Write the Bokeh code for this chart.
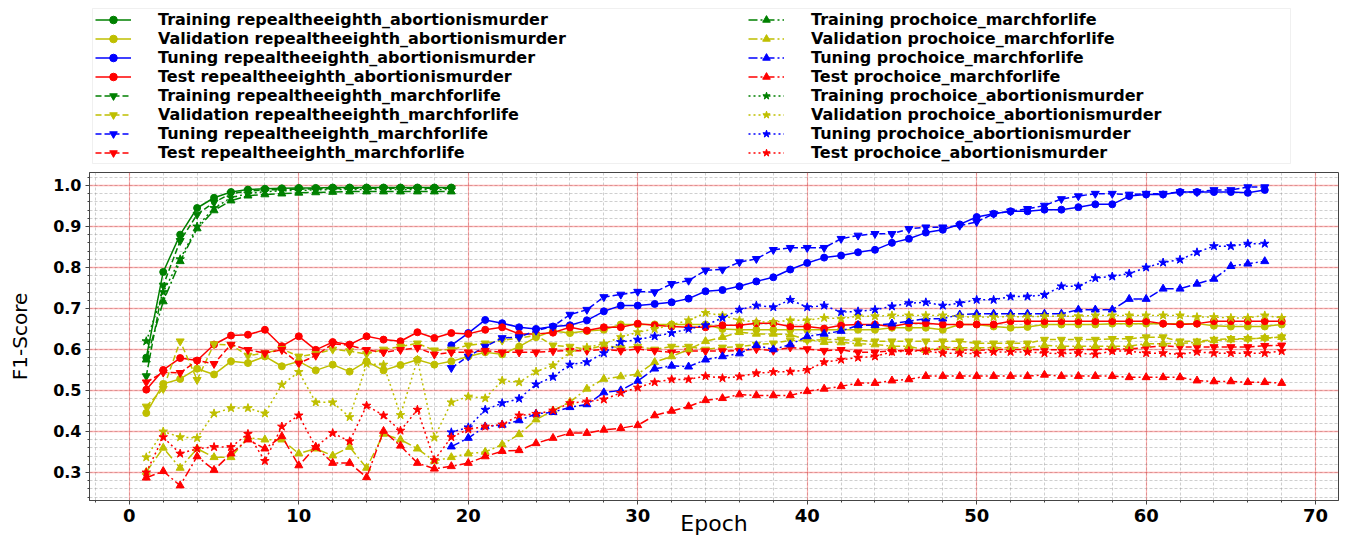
from bokeh.plotting import figure
from bokeh.layouts import column
from bokeh.models import (Legend, LegendItem, Range1d, SingleIntervalTicker,
                          PrintfTickFormatter, BoxAnnotation)
from bokeh.embed import file_html
from bokeh.resources import INLINE

# ---------------- data ----------------
epochs_train = list(range(1, 20))
epochs_all = list(range(1, 69))
epochs_tune = list(range(19, 68))

# Training (epochs 1-19)
train_rep_abort = [0.58, 0.789, 0.88, 0.945, 0.97, 0.984, 0.99, 0.992, 0.993, 0.994,
                   0.994, 0.995, 0.995, 0.995, 0.995, 0.995, 0.995, 0.995, 0.995]
train_rep_march = [0.535, 0.756, 0.865, 0.929, 0.959, 0.98, 0.986, 0.989, 0.99, 0.991,
                   0.992, 0.992, 0.993, 0.993, 0.993, 0.993, 0.993, 0.993, 0.993]
train_pro_march = [0.575, 0.717, 0.815, 0.895, 0.939, 0.963, 0.975, 0.978, 0.98, 0.982,
                   0.983, 0.984, 0.985, 0.985, 0.985, 0.985, 0.985, 0.985, 0.985]
train_pro_abort = [0.62, 0.74, 0.82, 0.9, 0.945, 0.97, 0.98, 0.985, 0.987, 0.988,
                   0.989, 0.99, 0.99, 0.99, 0.99, 0.99, 0.99, 0.99, 0.99]

# Validation (epochs 1-68)
val_rep_abort = [0.445, 0.516, 0.528, 0.553, 0.539, 0.571, 0.567, 0.583, 0.559, 0.571,
                 0.549, 0.563, 0.546, 0.571, 0.549, 0.562, 0.575, 0.563, 0.571, 0.583,
                 0.593, 0.588, 0.607, 0.63, 0.645, 0.64, 0.645, 0.648, 0.661, 0.661,
                 0.661, 0.661, 0.661, 0.661, 0.65, 0.648, 0.648, 0.648, 0.648, 0.648,
                 0.648, 0.648, 0.648, 0.648, 0.653, 0.653, 0.653, 0.648, 0.661, 0.661,
                 0.656, 0.653, 0.655, 0.661, 0.661, 0.661, 0.661, 0.663, 0.663, 0.663,
                 0.663, 0.663, 0.663, 0.658, 0.656, 0.656, 0.656, 0.661]
val_rep_march = [0.461, 0.504, 0.62, 0.526, 0.613, 0.611, 0.585, 0.591, 0.601, 0.583,
                 0.589, 0.6, 0.596, 0.589, 0.6, 0.607, 0.615, 0.598, 0.6, 0.61,
                 0.615, 0.622, 0.628, 0.634, 0.61, 0.607, 0.6, 0.61, 0.604, 0.607,
                 0.6, 0.607, 0.607, 0.6, 0.605, 0.607, 0.612, 0.615, 0.622, 0.622,
                 0.624, 0.624, 0.622, 0.62, 0.62, 0.62, 0.62, 0.62, 0.62, 0.615,
                 0.615, 0.615, 0.615, 0.624, 0.624, 0.624, 0.624, 0.626, 0.626, 0.63,
                 0.63, 0.62, 0.62, 0.624, 0.626, 0.626, 0.628, 0.63]
val_pro_march = [0.301, 0.36, 0.311, 0.358, 0.337, 0.337, 0.385, 0.38, 0.38, 0.346,
                 0.358, 0.341, 0.362, 0.311, 0.394, 0.38, 0.358, 0.328, 0.337, 0.346,
                 0.35, 0.368, 0.393, 0.429, 0.451, 0.472, 0.504, 0.528, 0.534, 0.54,
                 0.569, 0.583, 0.6, 0.62, 0.63, 0.642, 0.638, 0.638, 0.636, 0.624,
                 0.618, 0.617, 0.614, 0.612, 0.608, 0.608, 0.598, 0.605, 0.604, 0.604,
                 0.604, 0.604, 0.604, 0.61, 0.608, 0.608, 0.608, 0.608, 0.608, 0.614,
                 0.614, 0.615, 0.617, 0.622, 0.624, 0.626, 0.628, 0.63]
val_pro_abort = [0.337, 0.4, 0.386, 0.384, 0.444, 0.457, 0.457, 0.444, 0.514, 0.545,
                 0.471, 0.471, 0.435, 0.565, 0.563, 0.44, 0.575, 0.385, 0.471, 0.485,
                 0.481, 0.524, 0.52, 0.546, 0.561, 0.593, 0.605, 0.614, 0.63, 0.642,
                 0.65, 0.66, 0.671, 0.689, 0.683, 0.671, 0.667, 0.667, 0.671, 0.671,
                 0.677, 0.675, 0.681, 0.681, 0.683, 0.683, 0.683, 0.683, 0.68, 0.679,
                 0.679, 0.68, 0.68, 0.681, 0.681, 0.681, 0.683, 0.683, 0.683, 0.683,
                 0.683, 0.683, 0.679, 0.679, 0.677, 0.677, 0.683, 0.677]

# Tuning (epochs 19-67)
tune_rep_abort = [0.61, 0.64, 0.672, 0.664, 0.654, 0.65, 0.656, 0.659, 0.671, 0.693,
                  0.707, 0.707, 0.711, 0.715, 0.724, 0.742, 0.745, 0.754, 0.766, 0.776,
                  0.795, 0.811, 0.824, 0.829, 0.837, 0.843, 0.86, 0.87, 0.885, 0.892,
                  0.905, 0.923, 0.931, 0.937, 0.937, 0.941, 0.941, 0.947, 0.954, 0.954,
                  0.974, 0.978, 0.978, 0.984, 0.984, 0.984, 0.984, 0.982, 0.989]
tune_rep_march = [0.555, 0.583, 0.607, 0.628, 0.63, 0.646, 0.656, 0.685, 0.697, 0.728,
                  0.734, 0.741, 0.74, 0.76, 0.768, 0.793, 0.795, 0.813, 0.821, 0.843,
                  0.848, 0.848, 0.848, 0.87, 0.878, 0.882, 0.882, 0.894, 0.898, 0.898,
                  0.902, 0.911, 0.931, 0.937, 0.943, 0.951, 0.967, 0.974, 0.98, 0.98,
                  0.978, 0.98, 0.98, 0.984, 0.984, 0.989, 0.989, 0.996, 0.996]
tune_pro_march = [0.363, 0.384, 0.412, 0.416, 0.427, 0.443, 0.447, 0.459, 0.466, 0.495,
                  0.5, 0.523, 0.553, 0.56, 0.558, 0.575, 0.583, 0.59, 0.61, 0.6,
                  0.612, 0.632, 0.638, 0.645, 0.659, 0.659, 0.663, 0.669, 0.675, 0.675,
                  0.685, 0.687, 0.687, 0.687, 0.687, 0.687, 0.687, 0.697, 0.697, 0.697,
                  0.723, 0.723, 0.748, 0.748, 0.76, 0.772, 0.803, 0.809, 0.815]
tune_pro_abort = [0.398, 0.41, 0.453, 0.469, 0.48, 0.515, 0.533, 0.563, 0.569, 0.591,
                  0.618, 0.624, 0.632, 0.64, 0.65, 0.659, 0.677, 0.697, 0.707, 0.703,
                  0.721, 0.703, 0.707, 0.691, 0.693, 0.697, 0.705, 0.713, 0.715, 0.707,
                  0.713, 0.721, 0.721, 0.729, 0.729, 0.733, 0.754, 0.754, 0.774, 0.778,
                  0.785, 0.8, 0.812, 0.819, 0.837, 0.852, 0.852, 0.858, 0.858]

# Test (epochs 1-68)
test_rep_abort = [0.502, 0.55, 0.579, 0.573, 0.612, 0.634, 0.636, 0.648, 0.608, 0.632,
                  0.599, 0.618, 0.612, 0.632, 0.624, 0.62, 0.642, 0.628, 0.64, 0.638,
                  0.648, 0.654, 0.638, 0.638, 0.641, 0.654, 0.646, 0.654, 0.654, 0.663,
                  0.659, 0.656, 0.654, 0.654, 0.659, 0.659, 0.664, 0.664, 0.656, 0.656,
                  0.651, 0.659, 0.661, 0.661, 0.656, 0.664, 0.664, 0.661, 0.661, 0.661,
                  0.661, 0.669, 0.669, 0.669, 0.669, 0.669, 0.669, 0.669, 0.669, 0.669,
                  0.663, 0.661, 0.663, 0.669, 0.669, 0.669, 0.669, 0.669]
test_rep_march = [0.52, 0.544, 0.543, 0.573, 0.565, 0.612, 0.599, 0.591, 0.599, 0.566,
                  0.585, 0.614, 0.61, 0.599, 0.593, 0.599, 0.604, 0.588, 0.593, 0.593,
                  0.597, 0.593, 0.593, 0.593, 0.596, 0.597, 0.597, 0.6, 0.597, 0.601,
                  0.597, 0.593, 0.596, 0.596, 0.596, 0.597, 0.601, 0.597, 0.605, 0.601,
                  0.597, 0.599, 0.593, 0.593, 0.597, 0.597, 0.598, 0.601, 0.599, 0.598,
                  0.6, 0.6, 0.6, 0.599, 0.599, 0.6, 0.6, 0.601, 0.601, 0.605,
                  0.609, 0.606, 0.606, 0.606, 0.606, 0.606, 0.609, 0.61]
test_pro_march = [0.287, 0.303, 0.268, 0.339, 0.306, 0.346, 0.38, 0.358, 0.388, 0.317,
                  0.362, 0.323, 0.323, 0.288, 0.401, 0.365, 0.323, 0.309, 0.315, 0.323,
                  0.339, 0.352, 0.354, 0.371, 0.384, 0.396, 0.396, 0.404, 0.408, 0.415,
                  0.439, 0.45, 0.461, 0.476, 0.481, 0.49, 0.488, 0.488, 0.488, 0.498,
                  0.504, 0.51, 0.518, 0.518, 0.524, 0.527, 0.535, 0.535, 0.535, 0.535,
                  0.535, 0.535, 0.535, 0.538, 0.535, 0.535, 0.535, 0.535, 0.532, 0.532,
                  0.532, 0.532, 0.524, 0.522, 0.522, 0.52, 0.52, 0.518]
test_pro_abort = [0.30, 0.386, 0.346, 0.358, 0.362, 0.362, 0.394, 0.328, 0.412, 0.439,
                  0.362, 0.396, 0.376, 0.463, 0.439, 0.402, 0.453, 0.33, 0.386, 0.405,
                  0.412, 0.417, 0.439, 0.443, 0.451, 0.469, 0.473, 0.478, 0.494, 0.507,
                  0.52, 0.527, 0.527, 0.535, 0.53, 0.534, 0.542, 0.545, 0.546, 0.55,
                  0.569, 0.575, 0.58, 0.583, 0.594, 0.596, 0.596, 0.591, 0.591, 0.59,
                  0.594, 0.594, 0.594, 0.591, 0.59, 0.591, 0.588, 0.596, 0.596, 0.591,
                  0.591, 0.588, 0.594, 0.591, 0.591, 0.591, 0.591, 0.596]

# ---------------- styles ----------------
GREEN, YELLOW, BLUE, RED = "#008000", "#bfbf00", "#0000ff", "#ff0000"
STY = {
    "rep_abort": ("solid", "circle", 7),
    "rep_march": ("6 3", "inverted_triangle", 8),
    "pro_march": ("9 3 2 3", "triangle", 8),
    "pro_abort": ("2 3", "star", 9),
}
names = {
    "rep_abort": "repealtheeighth_abortionismurder",
    "rep_march": "repealtheeighth_marchforlife",
    "pro_march": "prochoice_marchforlife",
    "pro_abort": "prochoice_abortionismurder",
}
series = {
    "rep_abort": [("Training", epochs_train, train_rep_abort, GREEN),
                  ("Validation", epochs_all, val_rep_abort, YELLOW),
                  ("Tuning", epochs_tune, tune_rep_abort, BLUE),
                  ("Test", epochs_all, test_rep_abort, RED)],
    "rep_march": [("Training", epochs_train, train_rep_march, GREEN),
                  ("Validation", epochs_all, val_rep_march, YELLOW),
                  ("Tuning", epochs_tune, tune_rep_march, BLUE),
                  ("Test", epochs_all, test_rep_march, RED)],
    "pro_march": [("Training", epochs_train, train_pro_march, GREEN),
                  ("Validation", epochs_all, val_pro_march, YELLOW),
                  ("Tuning", epochs_tune, tune_pro_march, BLUE),
                  ("Test", epochs_all, test_pro_march, RED)],
    "pro_abort": [("Training", epochs_train, train_pro_abort, GREEN),
                  ("Validation", epochs_all, val_pro_abort, YELLOW),
                  ("Tuning", epochs_tune, tune_pro_abort, BLUE),
                  ("Test", epochs_all, test_pro_abort, RED)],
}

W = 1348
LEG_H = 168
MAIN_H = 538 - LEG_H
BL, BR = 89, 10          # left / right borders shared by both strips

# ---------- legend strip ----------
leg = figure(width=W, height=LEG_H, output_backend="svg", toolbar_location=None,
             x_range=Range1d(100, 101), y_range=Range1d(100, 101),
             min_border_left=BL, min_border_right=BR,
             min_border_top=7, min_border_bottom=4)
leg.axis.visible = False
leg.grid.visible = False
leg.outline_line_color = None
leg.border_fill_color = "white"
leg_frame_h = LEG_H - 7 - 4
# legend box (screen units relative to the strip's frame)
leg.add_layout(BoxAnnotation(left=3, right=1290 - BL, bottom=1, top=leg_frame_h - 1,
                             left_units="screen", right_units="screen",
                             bottom_units="screen", top_units="screen",
                             fill_color="white", fill_alpha=1.0,
                             line_color="#cccccc", line_width=1))

# ---------- main plot ----------
p = figure(width=W, height=MAIN_H, output_backend="svg", toolbar_location=None,
           x_range=Range1d(-2.35, 71.35), y_range=Range1d(0.2316, 1.0316),
           min_border_left=BL, min_border_right=BR,
           min_border_bottom=38, min_border_top=4)
p.background_fill_color = "white"
p.border_fill_color = "white"
p.outline_line_color = "#444444"
p.outline_line_width = 1

cols = [[], []]
for gi, key in enumerate(["rep_abort", "rep_march", "pro_march", "pro_abort"]):
    dash, marker, msize = STY[key]
    for stage, xs, ys, col in series[key]:
        p.line(xs, ys, line_color=col, line_width=1.5, line_dash=dash)
        p.scatter(xs, ys, marker=marker, size=msize, fill_color=col, line_color=col)
        # legend proxies in the legend strip (out of its visible range)
        lr = leg.line(xs[:1], ys[:1], line_color=col, line_width=1.5, line_dash=dash)
        sr = leg.scatter(xs[:1], ys[:1], marker=marker, size=msize,
                         fill_color=col, line_color=col)
        cols[gi // 2].append(LegendItem(label=f"{stage} {names[key]}", renderers=[lr, sr]))

ROW_H = 19
leg_h = ROW_H * 8
for ci, vx in enumerate([6, 659]):
    lg = Legend(items=cols[ci], location=(vx, leg_frame_h - leg_h - 3),
                label_text_font="DejaVu Sans", label_text_font_style="bold",
                label_text_font_size="16px", label_text_color="black",
                glyph_width=36, glyph_height=ROW_H, label_height=ROW_H, label_standoff=27,
                spacing=0, padding=0, margin=0,
                border_line_color=None, background_fill_alpha=0.0)
    leg.add_layout(lg)

# axes
p.xaxis.ticker = SingleIntervalTicker(interval=10, num_minor_ticks=5)
p.yaxis.ticker = SingleIntervalTicker(interval=0.1, num_minor_ticks=5)
p.yaxis.formatter = PrintfTickFormatter(format="%.1f")
for ax in (p.xaxis, p.yaxis):
    ax.major_label_text_font = "DejaVu Sans"
    ax.major_label_text_font_style = "bold"
    ax.major_label_text_color = "black"
    ax.axis_label_text_color = "black"
    ax.axis_line_color = "#444444"
    ax.major_tick_line_color = "#444444"
    ax.minor_tick_line_color = "#444444"
    ax.major_tick_in = 0
    ax.major_tick_out = 4
    ax.minor_tick_in = 0
    ax.minor_tick_out = 2
    ax.major_label_standoff = 4
p.xaxis.major_label_text_font_size = "18px"
p.yaxis.major_label_text_font_size = "16px"
p.yaxis.axis_label = "F1-Score"
p.yaxis.axis_label_text_font = "DejaVu Sans"
p.yaxis.axis_label_text_font_style = "normal"
p.yaxis.axis_label_text_font_size = "20px"
p.yaxis.axis_label_standoff = 18
p.xaxis.axis_label = "Epoch"
p.xaxis.axis_label_text_font = "DejaVu Sans"
p.xaxis.axis_label_text_font_style = "normal"
p.xaxis.axis_label_text_font_size = "22px"
p.xaxis.axis_label_standoff = -14

# grids
for g in (p.xgrid, p.ygrid):
    g.grid_line_color = "red"
    g.grid_line_alpha = 0.3
    g.minor_grid_line_color = "#888888"
    g.minor_grid_line_alpha = 0.5
    g.minor_grid_line_dash = "3 2"
    g.minor_grid_line_width = 0.8
p.xgrid.grid_line_width = 1.2
p.ygrid.grid_line_width = 1.6

layout = column(leg, p, spacing=0)
open("out.html", "w").write(file_html(layout, INLINE))
